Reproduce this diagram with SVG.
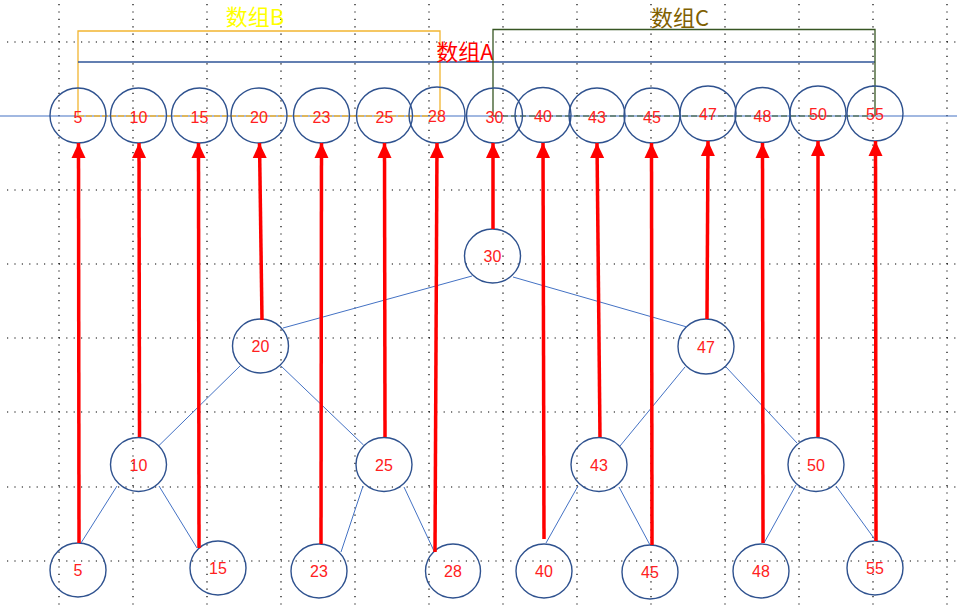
<svg xmlns="http://www.w3.org/2000/svg" width="957" height="608" viewBox="0 0 957 608">
<style>
.grid line{stroke:#000;stroke-width:1.2;stroke-dasharray:1.2 6.2}
.node ellipse{fill:none;stroke:#2F528F;stroke-width:1.4}
.node text{font-family:"Liberation Sans","Noto Sans CJK SC",sans-serif;font-size:16px;fill:#FF2020;text-anchor:middle}
.edge{stroke:#4472C4;stroke-width:1;fill:none}
.arrow{stroke:#FF0000;stroke-width:3.5;fill:none;marker-end:url(#ah)}
.lbl{font-family:"Noto Sans CJK SC","Liberation Sans",sans-serif;font-size:22px;text-anchor:middle}
</style>
<defs>
<marker id="ah" markerUnits="userSpaceOnUse" markerWidth="16" markerHeight="16" viewBox="0 -8 16 16" refX="15" refY="0" orient="auto">
<path d="M0,-7 L15,0 L0,7 Z" fill="#FF0000"/>
</marker>
</defs>
<rect width="957" height="608" fill="#fff"/>
<g class="grid">
<line x1="59" y1="4" x2="59" y2="608"/><line x1="133" y1="4" x2="133" y2="608"/><line x1="207" y1="4" x2="207" y2="608"/><line x1="281" y1="4" x2="281" y2="608"/><line x1="355" y1="4" x2="355" y2="608"/><line x1="429" y1="4" x2="429" y2="608"/><line x1="503" y1="4" x2="503" y2="608"/><line x1="577" y1="4" x2="577" y2="608"/><line x1="651" y1="4" x2="651" y2="608"/><line x1="725" y1="4" x2="725" y2="608"/><line x1="799" y1="4" x2="799" y2="608"/><line x1="873" y1="4" x2="873" y2="608"/><line x1="947" y1="4" x2="947" y2="608"/>
<line x1="7" y1="42" x2="957" y2="42"/><line x1="7" y1="190" x2="957" y2="190"/><line x1="7" y1="264" x2="957" y2="264"/><line x1="7" y1="338" x2="957" y2="338"/><line x1="7" y1="412" x2="957" y2="412"/><line x1="7" y1="487" x2="957" y2="487"/><line x1="7" y1="561" x2="957" y2="561"/>
</g>
<g id="axis">
<line x1="0" y1="116" x2="957" y2="116" stroke="#4472C4" stroke-width="1.2"/>
</g>
<g id="bracket-B">
<path d="M78,116 V31 H440 V116" fill="none" stroke="#F2B531" stroke-width="1.3"/>
<line x1="78" y1="116" x2="440" y2="116" stroke="#F2B531" stroke-width="1.3" stroke-dasharray="6 2"/>
<text class="lbl" x="255" y="25" fill="#FFFF00">数组B</text>
</g>
<g id="bracket-A">
<line x1="78" y1="62" x2="875" y2="62" stroke="#2F5597" stroke-width="1.3"/>
<text class="lbl" x="465" y="60" fill="#FF0000">数组A</text>
</g>
<g id="bracket-C">
<path d="M493,116 V29.5 H875 V116" fill="none" stroke="#375623" stroke-width="1.3"/>
<line x1="493" y1="116" x2="875" y2="116" stroke="#375623" stroke-width="1.2" stroke-dasharray="6 3"/>
<text class="lbl" x="680" y="26" fill="#7F6000">数组C</text>
</g>
<g id="array">
<g id="a5" class="node"><ellipse cx="78" cy="115.5" rx="28" ry="27.5"/><text x="78" y="123">5</text></g>
<g id="a10" class="node"><ellipse cx="138.5" cy="115.5" rx="28" ry="27.5"/><text x="138.5" y="123">10</text></g>
<g id="a15" class="node"><ellipse cx="199.5" cy="115.5" rx="28" ry="27.5"/><text x="199.5" y="123">15</text></g>
<g id="a20" class="node"><ellipse cx="259" cy="115.5" rx="28" ry="27.5"/><text x="259" y="123">20</text></g>
<g id="a23" class="node"><ellipse cx="321.5" cy="115.5" rx="28" ry="27.5"/><text x="321.5" y="123">23</text></g>
<g id="a25" class="node"><ellipse cx="384.5" cy="115.5" rx="28" ry="27.5"/><text x="384.5" y="123">25</text></g>
<g id="a28" class="node"><ellipse cx="437" cy="115" rx="28" ry="28"/><text x="437" y="122">28</text></g>
<g id="a30" class="node"><ellipse cx="494.5" cy="115.5" rx="28" ry="27.5"/><text x="494.5" y="123">30</text></g>
<g id="a40" class="node"><ellipse cx="543" cy="115" rx="28" ry="27.5"/><text x="543" y="122">40</text></g>
<g id="a43" class="node"><ellipse cx="597" cy="115.5" rx="28" ry="27.5"/><text x="597" y="123">43</text></g>
<g id="a45" class="node"><ellipse cx="652" cy="115.5" rx="28" ry="27.5"/><text x="652" y="123">45</text></g>
<g id="a47" class="node"><ellipse cx="708" cy="113.5" rx="28" ry="27.5"/><text x="708" y="120">47</text></g>
<g id="a48" class="node"><ellipse cx="762.5" cy="115" rx="27.5" ry="27.5"/><text x="762.5" y="122">48</text></g>
<g id="a50" class="node"><ellipse cx="818" cy="113.5" rx="28" ry="27.5"/><text x="818" y="120">50</text></g>
<g id="a55" class="node"><ellipse cx="875" cy="113.5" rx="28" ry="27.5"/><text x="875" y="120">55</text></g>
</g>
<g id="tree">
<g id="t30" class="node"><ellipse cx="492.5" cy="256" rx="28" ry="27"/><text x="492.5" y="262">30</text></g>
<g id="t20" class="node"><ellipse cx="260.5" cy="346" rx="28" ry="27"/><text x="260.5" y="352">20</text></g>
<g id="t47" class="node"><ellipse cx="706" cy="346.5" rx="28" ry="27.5"/><text x="706" y="352.5">47</text></g>
<g id="t10" class="node"><ellipse cx="138.5" cy="464.5" rx="28" ry="27"/><text x="138.5" y="470.5">10</text></g>
<g id="t25" class="node"><ellipse cx="384" cy="464.5" rx="28" ry="27"/><text x="384" y="470.5">25</text></g>
<g id="t43" class="node"><ellipse cx="599" cy="464.5" rx="28" ry="27"/><text x="599" y="470.5">43</text></g>
<g id="t50" class="node"><ellipse cx="816" cy="464.5" rx="28" ry="27"/><text x="816" y="470.5">50</text></g>
<g id="t5" class="node"><ellipse cx="78" cy="570" rx="28" ry="27"/><text x="78" y="576">5</text></g>
<g id="t15" class="node"><ellipse cx="218" cy="568" rx="28" ry="27"/><text x="218" y="574">15</text></g>
<g id="t23" class="node"><ellipse cx="319" cy="571" rx="28" ry="27"/><text x="319" y="577">23</text></g>
<g id="t28" class="node"><ellipse cx="453" cy="571" rx="27.5" ry="27"/><text x="453" y="577">28</text></g>
<g id="t40" class="node"><ellipse cx="544" cy="571" rx="28" ry="27"/><text x="544" y="577">40</text></g>
<g id="t45" class="node"><ellipse cx="650" cy="572" rx="28" ry="27"/><text x="650" y="578">45</text></g>
<g id="t48" class="node"><ellipse cx="761" cy="571" rx="28" ry="27"/><text x="761" y="577">48</text></g>
<g id="t55" class="node"><ellipse cx="875" cy="568" rx="28" ry="27"/><text x="875" y="574">55</text></g>
</g>
<g id="connectors">
<line class="edge" x1="472" y1="276" x2="283" y2="328"/>
<line class="edge" x1="513" y1="277" x2="687" y2="327"/>
<line class="edge" x1="240.5" y1="365.5" x2="159" y2="445.5"/>
<line class="edge" x1="280.5" y1="365.5" x2="363.5" y2="445"/>
<line class="edge" x1="117" y1="486" x2="81" y2="543"/>
<line class="edge" x1="159" y1="486" x2="197" y2="548"/>
<line class="edge" x1="363" y1="486" x2="341" y2="552"/>
<line class="edge" x1="404" y1="487" x2="434" y2="551"/>
<line class="edge" x1="685" y1="367" x2="620" y2="446"/>
<line class="edge" x1="726" y1="367" x2="797" y2="443"/>
<line class="edge" x1="578" y1="486" x2="546" y2="543"/>
<line class="edge" x1="619" y1="487" x2="650" y2="545"/>
<line class="edge" x1="796" y1="485" x2="764" y2="543"/>
<line class="edge" x1="836" y1="486" x2="876" y2="541"/>
<path class="arrow" d="M79,543 L78.5,143"/>
<path class="arrow" d="M139.5,437 L139,143"/>
<path class="arrow" d="M199,548 L198.5,143"/>
<path class="arrow" d="M262,320 L259.5,143"/>
<path class="arrow" d="M321,544 L321.5,143"/>
<path class="arrow" d="M385,437 L384.5,143"/>
<path class="arrow" d="M435,552 L437,143"/>
<path class="arrow" d="M493,229 L493,143"/>
<path class="arrow" d="M544,539 L543,143"/>
<path class="arrow" d="M600,437 L597,143"/>
<path class="arrow" d="M652,545 L651.5,143"/>
<path class="arrow" d="M707,319 L708,141"/>
<path class="arrow" d="M763,543 L762.5,143"/>
<path class="arrow" d="M818,437 L818,141"/>
<path class="arrow" d="M876,541 L875.5,141"/>
</g>
</svg>
